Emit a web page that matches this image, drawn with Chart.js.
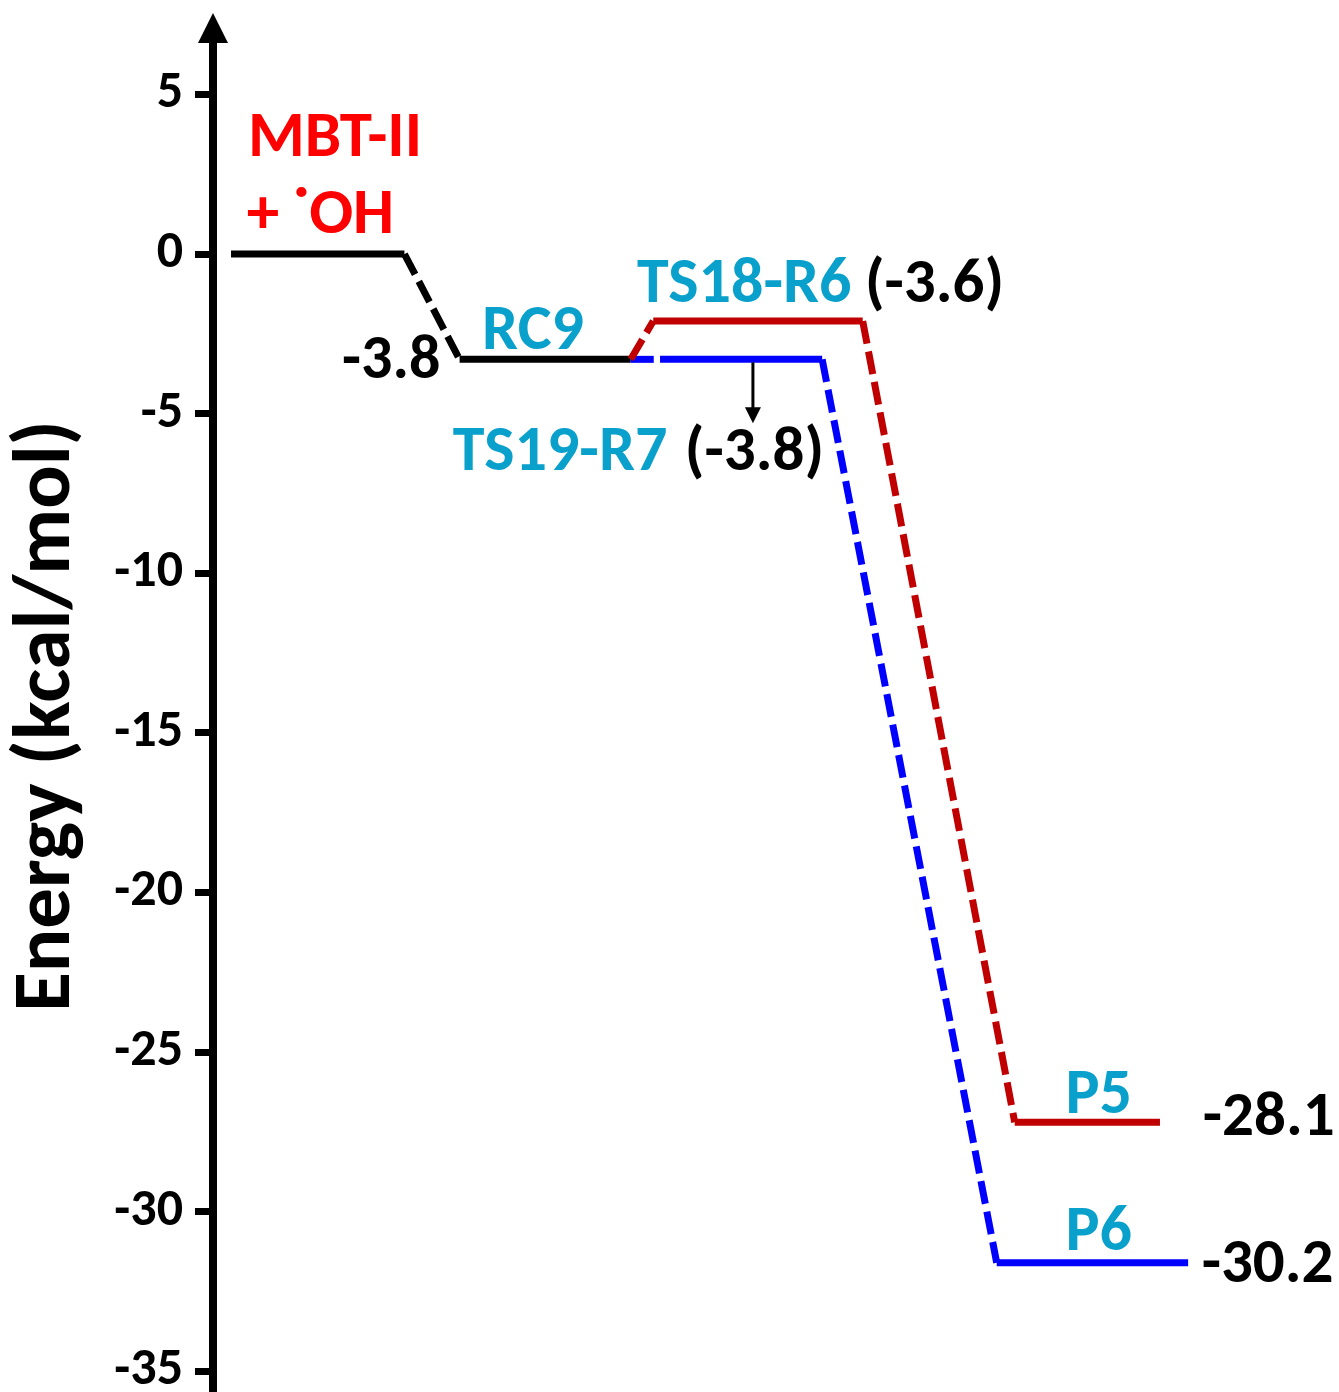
<!DOCTYPE html>
<html><head><meta charset="utf-8">
<script src="https://cdn.jsdelivr.net/npm/chart.js@4.4.1/dist/chart.umd.min.js"></script>
<style>html,body{margin:0;padding:0;background:#fff;} canvas{display:block}</style>
</head><body>
<canvas id="c" width="1339" height="1392"></canvas>
<script>
// ---------- data ----------
const stageNames   = ['MBT-II + \u02D9OH', 'RC9', 'TS18-R6', 'P5', 'TS19-R7', 'P6'];
const stageEnergy  = [0, -3.3, -2.1, -27.2, -3.3, -31.6];      // drawn level heights (kcal/mol)
const stageStart   = [1.6, 21.9, 39.1, 71.2, 39.7, 69.6];      // reaction coordinate
const stageEnd     = [17.0, 37.1, 57.7, 84.1, 54.1, 86.6];
const energyLabels = ['', '-3.8', '(-3.6)', '-28.1', '(-3.8)', '-30.2'];
const links        = [[0, 1], [1, 2], [2, 3], [1, 4], [4, 5]];
const reactantLines = ['MBT-II', '+ \u02D9OH'];
const yTicks = [5, 0, -5, -10, -15, -20, -25, -30, -35];
const yTitle = 'Energy (kcal/mol)';

// ---------- styles ----------
const FONT = 'Carlito, "Open Sans", Lato, sans-serif';
const stageColor = ['#000000', '#000000', '#c00000', '#c00000', '#0000ff', '#0000ff'];
const LABEL_BLUE = '#0aa0cc';

const datasets = [];
links.forEach(([a, b]) => {
  datasets.push({
    data: [{x: stageEnd[a], y: stageEnergy[a]}, {x: stageStart[b], y: stageEnergy[b]}],
    borderColor: stageColor[b], borderWidth: 7, borderDash: [23, 8],
    pointRadius: 0, fill: false, tension: 0
  });
});
stageEnergy.forEach((e, i) => {
  datasets.push({
    data: [{x: stageStart[i], y: e}, {x: stageEnd[i], y: e}],
    borderColor: stageColor[i], borderWidth: 7, borderDash: [],
    pointRadius: 0, fill: false, tension: 0
  });
});

const labelPlugin = {
  id: 'energyLabels',
  afterDatasetsDraw(chart, args, opts) {
    const {ctx, scales: {x, y}, chartArea} = chart;
    ctx.save();
    // axis arrow head
    const ax = chartArea.left;
    ctx.fillStyle = '#000';
    ctx.beginPath();
    ctx.moveTo(ax, chartArea.top - 27);
    ctx.lineTo(ax - 15, chartArea.top + 3);
    ctx.lineTo(ax + 15, chartArea.top + 3);
    ctx.closePath();
    ctx.fill();
    // texts
    opts.items.forEach(it => {
      ctx.font = 'bold ' + it.size + 'px ' + FONT;
      ctx.fillStyle = it.color;
      ctx.textAlign = it.align || 'left';
      ctx.textBaseline = 'alphabetic';
      ctx.fillText(it.text, x.getPixelForValue(it.x), y.getPixelForValue(it.y));
    });
    // small arrow from TS19 level
    const a = opts.arrow;
    const px = x.getPixelForValue(a.x);
    const y0 = y.getPixelForValue(a.from) + 3, y1 = y.getPixelForValue(a.to);
    ctx.strokeStyle = '#000'; ctx.lineWidth = 3;
    ctx.beginPath(); ctx.moveTo(px, y0); ctx.lineTo(px, y1 - 14); ctx.stroke();
    ctx.beginPath();
    ctx.moveTo(px, y1); ctx.lineTo(px - 8, y1 - 16); ctx.lineTo(px + 8, y1 - 16);
    ctx.closePath(); ctx.fill();
    ctx.restore();
  }
};

new Chart(document.getElementById('c'), {
  type: 'line',
  data: {datasets},
  plugins: [labelPlugin],
  options: {
    responsive: false, animation: false, devicePixelRatio: 1,
    layout: {padding: {top: 40, right: 0, bottom: 0, left: 0}},
    plugins: {
      legend: {display: false}, tooltip: {enabled: false},
      energyLabels: {
        items: [
          {text: reactantLines[0], x: 3.1, y: 3.07, color: '#ff0000', size: 65},
          {text: reactantLines[1], x: 3.0, y: 0.66, color: '#ff0000', size: 65},
          {text: stageNames[1], x: 23.9, y: -2.98, color: LABEL_BLUE, size: 64},
          {text: energyLabels[1], x: 20.2, y: -3.88, color: '#000', size: 62, align: 'right'},
          {text: stageNames[2], x: 37.65, y: -1.5, color: LABEL_BLUE, size: 64},
          {text: energyLabels[2], x: 57.9, y: -1.5, color: '#000', size: 63},
          {text: stageNames[4], x: 21.3, y: -6.77, color: LABEL_BLUE, size: 64},
          {text: energyLabels[4], x: 41.9, y: -6.77, color: '#000', size: 63},
          {text: stageNames[3], x: 75.7, y: -26.9, color: LABEL_BLUE, size: 64},
          {text: energyLabels[3], x: 87.9, y: -27.6, color: '#000', size: 63},
          {text: stageNames[5], x: 75.7, y: -31.2, color: LABEL_BLUE, size: 64},
          {text: energyLabels[5], x: 87.8, y: -32.2, color: '#000', size: 63}
        ],
        arrow: {x: 47.95, from: stageEnergy[4], to: -5.3}
      }
    },
    scales: {
      x: {type: 'linear', min: 0, max: 100, display: false},
      y: {
        type: 'linear', min: -35.65, max: 6.704,
        afterBuildTicks: s => { s.ticks = yTicks.map(v => ({value: v})); },
        afterFit: s => { s.width = 213; s.paddingTop = 0; s.paddingBottom = 0; },
        border: {display: true, color: '#000', width: 8},
        grid: {drawOnChartArea: false, drawTicks: true, tickLength: 18, tickWidth: 7, tickColor: '#000'},
        ticks: {color: '#000', padding: 12, font: {family: FONT, size: 52, weight: 'bold'}},
        title: {display: true, text: yTitle, color: '#000', padding: {top: 0, bottom: 0},
                font: {family: FONT, size: 81, weight: 'bold'}}
      }
    }
  }
});
</script>
</body></html>
